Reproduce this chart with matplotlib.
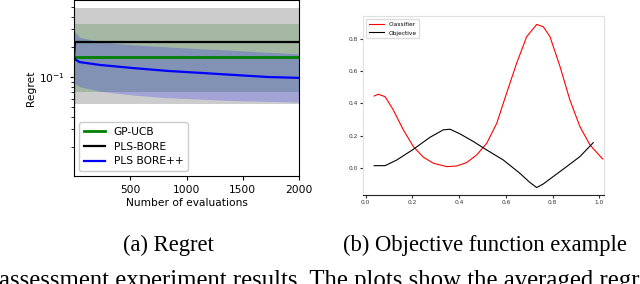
import numpy as np
import matplotlib
matplotlib.use("Agg")
import matplotlib.pyplot as plt

# ---------------- data: panel (a) Regret ----------------
evals_flat = [1, 2000]
gp_ucb_mean = [0.158, 0.158]
gp_ucb_lo = [0.071, 0.071]
gp_ucb_hi = [0.339, 0.339]

pls_evals = [1, 8, 2000]
pls_mean = [0.166, 0.224, 0.224]
pls_lo = [0.0537, 0.0537, 0.0537]
pls_hi = [0.49, 0.49, 0.49]

bpp_evals = [1, 10, 50, 230, 520, 830, 1120, 1410, 1720, 2000]
bpp_mean = [0.160, 0.150, 0.141, 0.132, 0.123, 0.115, 0.110, 0.105, 0.100, 0.098]
bpp_lo = [0.005, 0.085, 0.080, 0.072, 0.066, 0.062, 0.060, 0.058, 0.057, 0.056]
bpp_hi = [0.300, 0.280, 0.250, 0.225, 0.210, 0.200, 0.192, 0.185, 0.177, 0.170]

# ---------------- data: panel (b) Objective function example ----------------
clf_x = [0.036, 0.054, 0.083, 0.118, 0.161, 0.204, 0.247, 0.290, 0.347, 0.389,
         0.432, 0.475, 0.518, 0.561, 0.603, 0.646, 0.689, 0.732, 0.760, 0.789,
         0.832, 0.874, 0.917, 0.960, 1.014]
clf_y = [0.446, 0.457, 0.442, 0.360, 0.237, 0.134, 0.068, 0.031, 0.010, 0.014,
         0.035, 0.082, 0.154, 0.278, 0.463, 0.648, 0.812, 0.888, 0.874, 0.812,
         0.627, 0.422, 0.257, 0.144, 0.058]
obj_x = [0.036, 0.083, 0.133, 0.204, 0.275, 0.332, 0.361, 0.404, 0.461, 0.518,
         0.589, 0.660, 0.703, 0.732, 0.760, 0.803, 0.860, 0.917, 0.974]
obj_y = [0.016, 0.016, 0.051, 0.117, 0.191, 0.237, 0.241, 0.212, 0.165, 0.113,
         0.051, -0.031, -0.088, -0.119, -0.097, -0.051, 0.010, 0.072, 0.158]

caption_a = "(a) Regret"
caption_b = "(b) Objective function example"
body_line = "assessment experiment results. The plots show the averaged regr"

W, H = 640, 284
fig = plt.figure(figsize=(6.4, 2.84), dpi=100)

def rect(l, t, r, b):
    return [l / W, (H - b) / H, (r - l) / W, (b - t) / H]

# ---------------- panel (a) ----------------
ax = fig.add_axes(rect(74, 0, 299, 176))
ax.set_yscale("log")
ax.fill_between(evals_flat, gp_ucb_lo, gp_ucb_hi, color="green", alpha=0.2, lw=0)
ax.fill_between(pls_evals, pls_lo, pls_hi, color="black", alpha=0.2, lw=0)
ax.fill_between(bpp_evals, bpp_lo, bpp_hi, color="blue", alpha=0.2, lw=0)
ax.plot(evals_flat, gp_ucb_mean, color="green", lw=2, label="GP-UCB")
ax.plot(pls_evals, pls_mean, color="black", lw=1.6, label="PLS-BORE")
ax.plot(bpp_evals, bpp_mean, color="blue", lw=1.6, label="PLS BORE++")
ax.set_xlim(0, 2000)
ax.set_ylim(0.0102, 0.59)
ax.set_xticks([500, 1000, 1500, 2000])
ax.tick_params(labelsize=7.7, length=3)
ax.set_xlabel("Number of evaluations", fontsize=7.7, labelpad=2)
ax.set_ylabel("Regret", fontsize=7.7, labelpad=2)
ax.legend(loc="lower left", fontsize=7.7, framealpha=1, edgecolor="#cccccc",
          handlelength=2.0, labelspacing=0.45, borderpad=0.4)

# ---------------- panel (b) ----------------
bx = fig.add_axes(rect(363.3, 16, 604.3, 194.5))
bx.plot(clf_x, clf_y, color="red", lw=0.8, label="Classifier")
bx.plot(obj_x, obj_y, color="black", lw=0.8, label="Objective")
bx.set_xlim(-0.0103, 1.0214)
bx.set_ylim(-0.162, 0.94)
bx.set_xticks([0.0, 0.2, 0.4, 0.6, 0.8, 1.0])
bx.set_yticks([0.0, 0.2, 0.4, 0.6, 0.8])
for s in ["left", "top", "right"]:
    bx.spines[s].set_color("#e0e0e0")
bx.spines["bottom"].set_color("#222222")
bx.tick_params(labelsize=4.2, length=2, width=0.8, pad=2, colors="#333333")
bx.legend(loc="upper left", fontsize=4.2, framealpha=1, edgecolor="#dddddd",
          handlelength=2.5, borderpad=0.5, labelspacing=0.6)

# ---------------- captions ----------------
serif = ["Liberation Serif", "DejaVu Serif"]
fig.text(168.5 / W, (H - 251) / H, caption_a, family=serif, fontsize=16.3,
         ha="center", va="baseline")
fig.text(485 / W, (H - 251) / H, caption_b, family=serif, fontsize=16.3,
         ha="center", va="baseline")
fig.text(-1 / W, (H - 287) / H, body_line, family=serif, fontsize=17.8,
         ha="left", va="baseline")

fig.savefig("out.png", dpi=100)
